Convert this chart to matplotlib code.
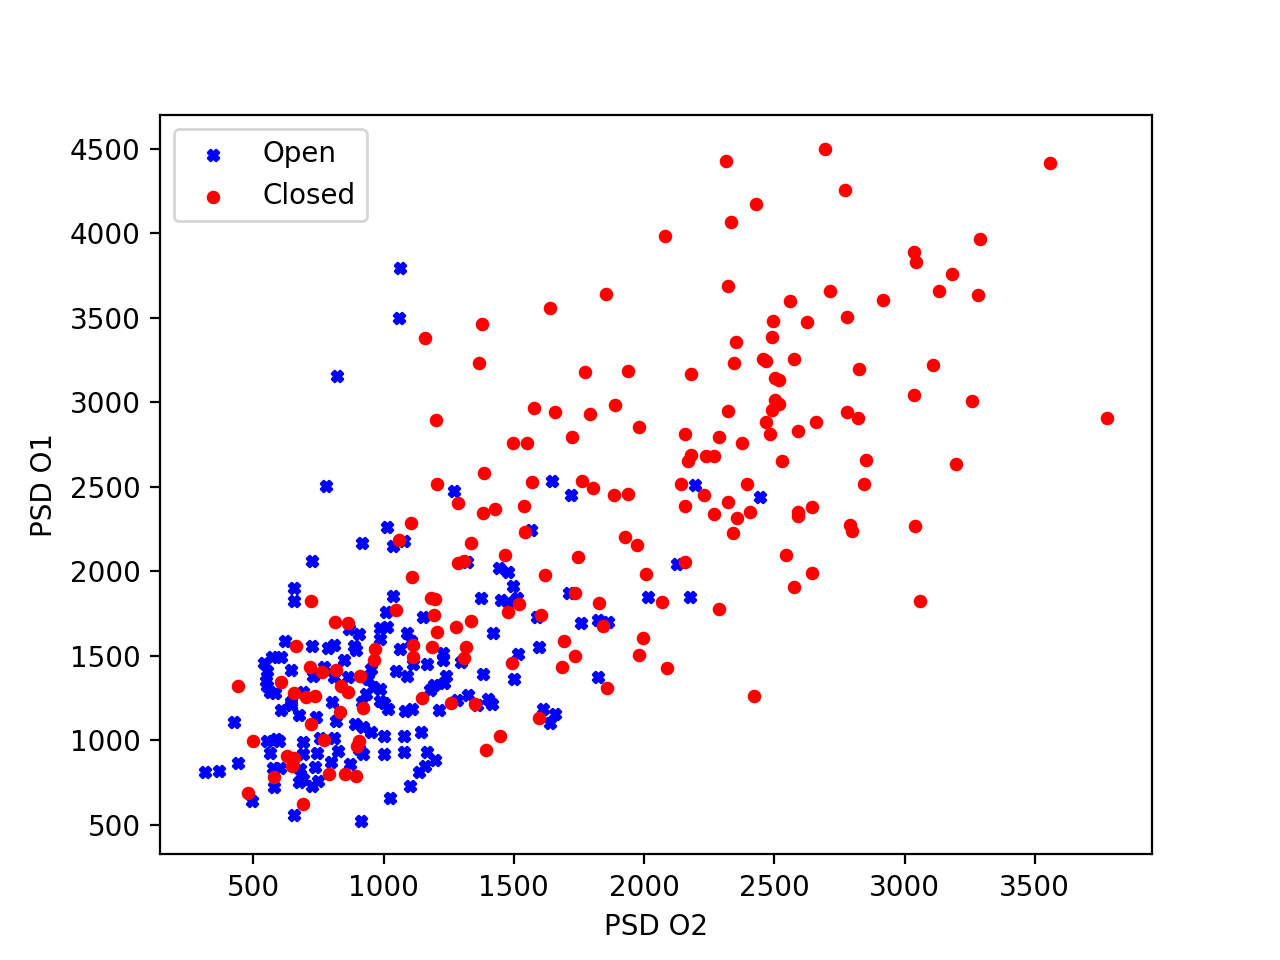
import matplotlib
matplotlib.use("Agg")
import numpy as np
import matplotlib.pyplot as plt

# PSD values (O2, O1) for eyes open
open_o2 = [1062, 1058, 823, 781, 1269, 1646, 1719, 2196, 2446, 1015, 919, 1038, 1077,
           1565, 727, 1319, 1442, 1477, 1496, 1373, 1450, 1477, 1511, 1711, 2127, 2015,
           2177, 1588, 1758, 1823, 1861, 658, 658, 623, 573, 608, 542, 554, 646, 550,
           554, 565, 585, 646, 1035, 1008, 985, 1015, 869, 904, 1092, 988, 727, 785,
           808, 888, 896, 1065, 1104, 850, 773, 731, 808, 865, 950, 1046, 1092, 942,
           958, 988, 931, 692, 804, 988, 1150, 1419, 1227, 1227, 1515, 1596, 1165, 1112,
           1296, 1381, 1500, 1823, 1238, 1231, 1192, 1177, 1108, 1081, 1212, 1281, 1323,
           1358, 1400, 1415, 1611, 1658, 1638, 1077, 1142, 1077, 1165, 1196, 1158, 1138,
           1100, 608, 646, 677, 427, 554, 588, 600, 565, 692, 692, 442, 315, 369, 577,
           604, 681, 677, 581, 496, 658, 919, 1000, 1019, 742, 819, 892, 923, 950, 1000,
           758, 808, 827, 746, 923, 1000, 904, 800, 873, 738, 692, 750, 727, 1023, 915]
open_o1 = [3795, 3499, 3155, 2503, 2473, 2533, 2450, 2509, 2438, 2260, 2165, 2147, 2177,
           2242, 2064, 2053, 2017, 1999, 1916, 1845, 1833, 1816, 1845, 1869, 2041, 1851,
           1851, 1727, 1697, 1715, 1703, 1899, 1827, 1590, 1496, 1496, 1460, 1413, 1419, 1353,
           1324, 1288, 1282, 1229, 1857, 1762, 1667, 1673, 1656, 1632, 1638, 1602, 1561, 1549,
           1567, 1561, 1537, 1543, 1590, 1478, 1436, 1383, 1377, 1377, 1424, 1413, 1383, 1365,
           1318, 1306, 1276, 1288, 1229, 1235, 1727, 1638, 1519, 1478, 1513, 1555, 1454, 1454,
           1466, 1395, 1365, 1377, 1383, 1341, 1330, 1300, 1187, 1176, 1181, 1241, 1270,
           1211, 1247, 1217, 1187, 1158, 1104, 1027, 1051, 933, 933, 885, 850, 814,
           731, 1181, 1211, 1152, 1110, 998, 1010, 998, 927, 992, 921, 867, 814, 820, 838,
           838, 832, 755, 725, 642, 559, 1229, 1223, 1187, 1140, 1116, 1099, 1081, 1051, 1027,
           1016, 1016, 939, 927, 921, 921, 950, 873, 861, 844, 773, 761, 731, 660, 524]

# PSD values (O2, O1) for eyes closed
closed_o2 = [2315, 2696, 2773, 2431, 2335, 2081, 3558, 3288, 3035, 3046, 3181, 3131, 3281,
             2323, 2561, 2715, 2919, 2781, 2627, 2496, 2492, 2354, 2346, 2458, 2469, 2577,
             2181, 2827, 3108, 2504, 2519, 3035, 3258, 2504, 2519, 2492, 2323, 2781,
             1158, 1377, 1365, 1638, 1854, 1200, 1773, 1938, 1577, 1658, 1792, 1888, 1981,
             1496, 1550, 1723, 1385, 1204, 1569, 1761, 1804, 1885, 1938, 1285, 1427, 1538,
             1381, 2823, 3777, 2469, 2661, 2158, 2288, 2377, 2485, 2592, 2181, 2169, 2238,
             2269, 2531, 2854, 3196, 2846, 2142, 2396, 2231, 2323, 2158, 2269, 2358, 2408,
             2342, 2592, 2592, 2646, 2792, 2800, 3042, 2158, 2546, 2646, 2577, 3061, 2069,
             2288, 2088, 2423, 1927, 1973, 2008, 1842, 1996, 1981, 1858, 1827, 1104, 1542,
             1058, 1335, 1285, 1308, 1465, 1746, 1108, 1619, 1181, 1196, 1735, 1519, 1477,
             1046, 1192, 1335, 1277, 1604, 1204, 1112, 1188, 1315, 1115, 1308, 1492, 1692,
             1735, 1685, 1146, 1258, 1350, 1596, 1446, 1392, 723, 815, 862, 665, 969, 962,
             719, 762, 819, 908, 442, 608, 838, 862, 658, 704, 738, 831, 923, 723, 500,
             773, 904, 900, 631, 658, 650, 581, 792, 854, 896, 481, 692]
closed_o1 = [4429, 4500, 4257, 4174, 4067, 3984, 4417, 3967, 3890, 3830, 3759, 3659, 3635,
             3688, 3599, 3659, 3605, 3504, 3475, 3481, 3386, 3356, 3232, 3256, 3244, 3256,
             3167, 3196, 3220, 3143, 3131, 3042, 3007, 3013, 2989, 2953, 2947, 2941,
             3380, 3463, 3232, 3558, 3641, 2894, 3179, 3184, 2965, 2941, 2930, 2983, 2853,
             2758, 2758, 2793, 2580, 2515, 2527, 2533, 2491, 2450, 2456, 2402, 2367, 2384,
             2343, 2906, 2906, 2882, 2882, 2811, 2793, 2758, 2811, 2829, 2687, 2651, 2681,
             2681, 2651, 2657, 2633, 2515, 2515, 2515, 2450, 2408, 2384, 2337, 2313, 2349,
             2224, 2349, 2325, 2379, 2272, 2236, 2266, 2053, 2094, 1993, 1910, 1827, 1821,
             1780, 1430, 1264, 2201, 2153, 1982, 1679, 1608, 1507, 1312, 1810, 2284, 2230,
             2183, 2165, 2047, 2064, 2094, 2082, 1964, 1976, 1845, 1839, 1869, 1804, 1762,
             1774, 1739, 1709, 1673, 1744, 1644, 1567, 1555, 1555, 1496, 1490, 1460, 1590,
             1501, 1436, 1253, 1223, 1217, 1134, 1027, 944, 1827, 1703, 1697, 1561, 1543, 1478,
             1436, 1407, 1419, 1383, 1324, 1347, 1324, 1288, 1282, 1259, 1264, 1170, 1193, 1099, 998,
             1004, 998, 968, 909, 897, 850, 784, 802, 802, 790, 690, 624]

plt.figure(figsize=(6.4, 4.8), dpi=200)
plt.scatter(open_o2, open_o1, c="blue", marker="X", s=15, label="Open")
plt.scatter(closed_o2, closed_o1, c="red", marker="o", s=15, label="Closed")
plt.xlabel("PSD O2")
plt.ylabel("PSD O1")
plt.legend(loc="upper left")
plt.savefig("out.png", dpi=200)
